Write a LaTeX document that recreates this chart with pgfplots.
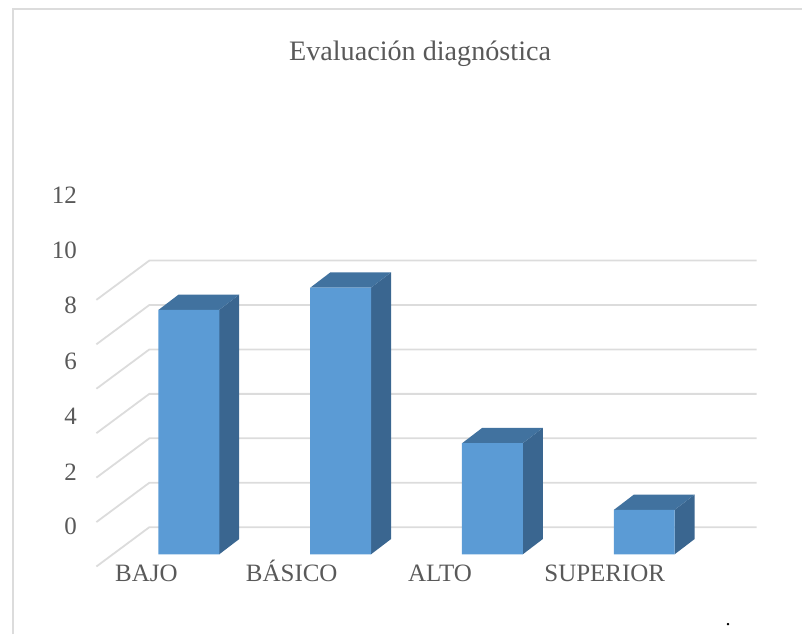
\documentclass[border=0pt]{standalone}
\usepackage{pgfplots}
\usepackage{fontspec}
\pgfplotsset{compat=1.18}
\setmainfont{Liberation Serif}
\definecolor{barfront}{HTML}{5B9BD5}
\definecolor{barside}{HTML}{3A6690}
\definecolor{bartop}{HTML}{41729F}
\definecolor{gridgray}{HTML}{DCDCDC}
\definecolor{txt}{HTML}{595959}

% the axis fills the whole page: x is category number, y is the chart value
% fake 3D depth of a bar: +0.132 in x, +0.688 in y
\pgfplotstableread{
x y
-0.609 -0.548
-0.260 1.222
3.740 1.222
nan nan
-0.609 1.452
-0.260 3.222
3.740 3.222
nan nan
-0.609 3.452
-0.260 5.222
3.740 5.222
nan nan
-0.609 5.452
-0.260 7.222
3.740 7.222
nan nan
-0.609 7.452
-0.260 9.222
3.740 9.222
nan nan
-0.609 9.452
-0.260 11.222
3.740 11.222
nan nan
-0.609 11.452
-0.260 13.222
3.740 13.222
}\gridlines

\begin{document}
\begin{tikzpicture}
	\begin{axis}[
			scale only axis,
			width=803pt,
			height=635pt,
			xmin=-1.2434, xmax=4.0395,
			ymin=-3.5955, ymax=24.9435,
			clip=false,
			axis line style={draw=none},
			major tick length=0pt,
			xtick={-0.28,0.678,1.655,2.74},
			xticklabels={BAJO,BÁSICO,ALTO,SUPERIOR},
			ytick={1.24,3.71,6.22,8.70,11.21,13.69,16.16},
			yticklabels={0,2,4,6,8,10,12},
			tick label style={text=txt,font=\fontsize{25}{28}\selectfont,inner sep=0pt},
			xticklabel style={anchor=base,yshift=53pt},
			yticklabel style={anchor=east,xshift=77pt},
			title={Evaluación diagnóstica},
			title style={at={(0.5237,0.895)},anchor=base,inner sep=0pt,text=txt,font=\fontsize{28.2}{32}\selectfont},
		]
		% frame, only left and top show
		\draw[gridgray,line width=2pt] (rel axis cs:0.0162,0) -- (rel axis cs:0.0162,0.9866) -- (rel axis cs:1,0.9866);

		\addplot[gridgray,line width=1.8pt,unbounded coords=jump] table {\gridlines};

		% side faces
		\addplot[fill=barside,draw=none] coordinates {(0.2,0)(0.332,0.688)(0.332,11.688)(0.2,11)} -- cycle;
		\addplot[fill=barside,draw=none] coordinates {(1.2,0)(1.332,0.688)(1.332,12.688)(1.2,12)} -- cycle;
		\addplot[fill=barside,draw=none] coordinates {(2.2,0)(2.332,0.688)(2.332,5.688)(2.2,5)} -- cycle;
		\addplot[fill=barside,draw=none] coordinates {(3.2,0)(3.332,0.688)(3.332,2.688)(3.2,2)} -- cycle;
		% top faces
		\addplot[fill=bartop,draw=none] coordinates {(-0.2,11)(0.2,11)(0.332,11.688)(-0.068,11.688)} -- cycle;
		\addplot[fill=bartop,draw=none] coordinates {(0.8,12)(1.2,12)(1.332,12.688)(0.932,12.688)} -- cycle;
		\addplot[fill=bartop,draw=none] coordinates {(1.8,5)(2.2,5)(2.332,5.688)(1.932,5.688)} -- cycle;
		\addplot[fill=bartop,draw=none] coordinates {(2.8,2)(3.2,2)(3.332,2.688)(2.932,2.688)} -- cycle;
		% front faces
		\addplot[ybar,bar width=61pt,fill=barfront,draw=none] coordinates {
				(0, 11)
				(1, 12)
				(2, 5)
				(3, 2)
			};

		\node[font=\fontsize{20}{24}\selectfont,inner sep=0pt,anchor=base] at (rel axis cs:0.9078,0.0134) {.};
	\end{axis}
\end{tikzpicture}
\end{document}
